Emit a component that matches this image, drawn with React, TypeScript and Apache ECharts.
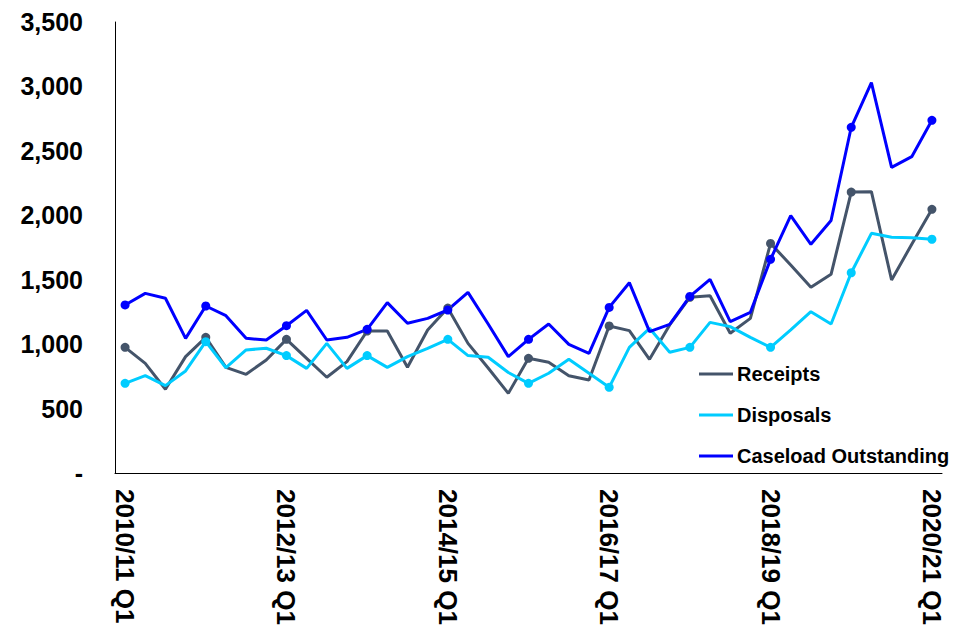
import React, { useEffect, useRef } from "react";
import * as echarts from "echarts";

const categories = [
  "2010/11 Q1", "2010/11 Q2", "2010/11 Q3", "2010/11 Q4",
  "2011/12 Q1", "2011/12 Q2", "2011/12 Q3", "2011/12 Q4",
  "2012/13 Q1", "2012/13 Q2", "2012/13 Q3", "2012/13 Q4",
  "2013/14 Q1", "2013/14 Q2", "2013/14 Q3", "2013/14 Q4",
  "2014/15 Q1", "2014/15 Q2", "2014/15 Q3", "2014/15 Q4",
  "2015/16 Q1", "2015/16 Q2", "2015/16 Q3", "2015/16 Q4",
  "2016/17 Q1", "2016/17 Q2", "2016/17 Q3", "2016/17 Q4",
  "2017/18 Q1", "2017/18 Q2", "2017/18 Q3", "2017/18 Q4",
  "2018/19 Q1", "2018/19 Q2", "2018/19 Q3", "2018/19 Q4",
  "2019/20 Q1", "2019/20 Q2", "2019/20 Q3", "2019/20 Q4",
  "2020/21 Q1",
];

const receipts = [
  975, 851, 650, 903, 1053, 820, 766, 877, 1037, 890,
  743, 864, 1102, 1102, 820, 1110, 1280, 1006, 815, 618,
  890, 859, 755, 722, 1141, 1105, 882, 1149, 1363, 1376,
  1084, 1200, 1782, 1614, 1441, 1542, 2180, 2183, 1498, 1775,
  2046,
];

const disposals = [
  696, 755, 678, 792, 1019, 817, 955, 968, 911, 812,
  1006, 812, 911, 820, 903, 968, 1037, 911, 898, 780,
  696, 774, 882, 774, 665, 975, 1123, 937, 975, 1169,
  1136, 1053, 975, 1110, 1252, 1156, 1554, 1860, 1829, 1826,
  1814,
];

const caseload = [
  1304, 1394, 1356, 1045, 1296, 1221, 1045, 1032, 1143, 1262,
  1032, 1053, 1115, 1322, 1162, 1200, 1265, 1402, 1156, 903,
  1037, 1156, 998, 929, 1285, 1477, 1097, 1154, 1370, 1503,
  1174, 1247, 1658, 1997, 1775, 1960, 2683, 3029, 2372, 2455,
  2737,
];

const yTicks = { min: 0, max: 3500, interval: 500 };

const FONT = "'Liberation Sans', Arial, sans-serif";

function makeSeries(name: string, data: number[], color: string) {
  return {
    name,
    type: "line",
    data,
    showAllSymbol: true,
    symbol: (_v: any, p: any) => (p.dataIndex % 4 === 0 ? "circle" : "none"),
    symbolSize: 9,
    lineStyle: { color, width: 3 },
    itemStyle: { color },
    emphasis: { disabled: true },
  };
}

export default function App() {
  const ref = useRef<HTMLDivElement>(null);
  useEffect(() => {
    if (!ref.current) return;
    const chart = echarts.init(ref.current, undefined, { renderer: "svg" });
    chart.setOption({
      animation: false,
      backgroundColor: "#ffffff",
      textStyle: { fontFamily: FONT },
      grid: { left: 115, right: 18, top: 22, bottom: 167, containLabel: false },
      legend: {
        orient: "vertical",
        left: 694,
        top: 359,
        icon: "rect",
        itemWidth: 34,
        itemHeight: 3,
        itemGap: 21,
        data: ["Receipts", "Disposals", "Caseload Outstanding"],
        textStyle: {
          fontFamily: FONT,
          fontSize: 20,
          fontWeight: "bold",
          color: "#000",
          lineHeight: 20,
          padding: [0, 0, 0, -1],
        },
      },
      xAxis: {
        type: "category",
        data: categories,
        boundaryGap: true,
        axisLine: { lineStyle: { color: "#000", width: 1 } },
        axisTick: { show: false },
        axisLabel: {
          interval: 7,
          rotate: -90,
          margin: 16,
          fontFamily: FONT,
          fontSize: 26,
          fontWeight: "bold",
          color: "#000",
        },
        splitLine: { show: false },
      },
      yAxis: {
        type: "value",
        min: yTicks.min,
        max: yTicks.max,
        interval: yTicks.interval,
        axisLine: { show: true, lineStyle: { color: "#000", width: 1 } },
        axisTick: { show: false },
        splitLine: { show: false },
        axisLabel: {
          margin: 32,
          fontFamily: FONT,
          fontSize: 25,
          fontWeight: "bold",
          color: "#000",
          formatter: (v: number) =>
            v === 0 ? "-" : v.toLocaleString("en-US"),
        },
      },
      series: [
        makeSeries("Receipts", receipts, "#44546A"),
        makeSeries("Disposals", disposals, "#00CCFF"),
        makeSeries("Caseload Outstanding", caseload, "#0000FF"),
      ],
    });
    return () => chart.dispose();
  }, []);
  return (
    <div
      ref={ref}
      style={{ position: "fixed", left: 0, top: 0, width: 960, height: 640 }}
    />
  );
}
